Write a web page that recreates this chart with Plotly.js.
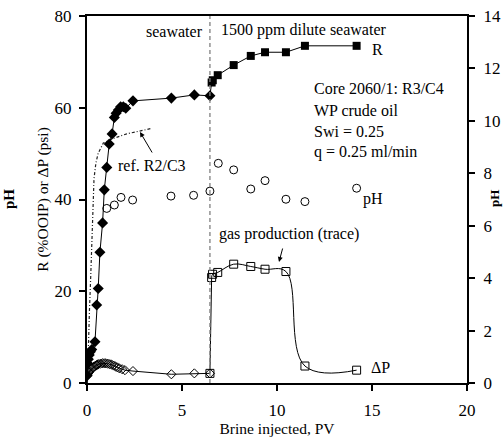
<!DOCTYPE html>
<html>
<head>
<meta charset="utf-8">
<script src="https://cdn.plot.ly/plotly-3.0.1.min.js"></script>
<style>html,body{margin:0;padding:0;background:#fff;}#chart{width:503px;height:445px;}</style>
</head>
<body>
<div id="chart"></div>
<script>
// Recovery R (%OOIP), seawater flood (filled diamonds)
const rSeaPV = [0.01, 0.03, 0.07, 0.12, 0.18, 0.25, 0.42, 0.51, 0.59, 0.68, 0.82, 0.91, 1.04, 1.17, 1.32, 1.44, 1.53, 1.65, 1.77, 1.91, 2.04, 2.42, 4.44, 5.65, 6.47];
const rSea   = [1.7, 4.3, 5.2, 6.1, 6.8, 7.3, 9.0, 17.0, 20.6, 28.5, 34.9, 42.1, 47.0, 52.1, 54.3, 57.9, 58.8, 59.5, 60.2, 60.2, 59.9, 61.5, 62.1, 62.8, 62.6];
// Recovery R, 1500 ppm dilute seawater (filled squares)
const rLowPV = [6.56, 6.62, 6.88, 7.72, 8.62, 9.37, 10.47, 11.47, 14.19];
const rLow   = [65.5, 66.0, 67.1, 69.3, 71.3, 72.1, 72.1, 73.5, 73.5];
// Reference recovery curve R2/C3 (dotted)
const refPV = [0.02, 0.05, 0.07, 0.13, 0.19, 0.26, 0.33, 0.37, 0.47, 0.59, 0.86, 1.38, 2.09, 2.79, 3.4];
const refR  = [0.0, 5.0, 9.4, 15.9, 22.5, 33.4, 43.6, 44.6, 48.0, 50.1, 52.3, 53.3, 54.3, 55.0, 55.5];
// Pressure drop dP (psi), seawater (open diamonds)
const dpSeaPV = [0.0, 0.05, 0.1, 0.15, 0.2, 0.25, 0.3, 0.35, 0.4, 0.45, 0.5, 0.55, 0.6, 0.7, 0.8, 0.9, 1.0, 1.1, 1.2, 1.3, 1.4, 1.5, 1.6, 1.7, 1.85, 2.0, 2.42, 4.44, 5.65, 6.47];
const dpSea   = [1.5, 2.0, 2.3, 2.6, 2.9, 3.1, 3.3, 3.5, 3.6, 3.8, 3.9, 4.0, 4.1, 4.2, 4.3, 4.3, 4.3, 4.2, 4.1, 4.0, 3.8, 3.6, 3.4, 3.2, 3.0, 2.8, 2.6, 1.9, 2.1, 2.1];
// Pressure drop, dilute seawater (open squares)
const dpLowPV = [6.47, 6.56, 6.61, 6.88, 7.72, 8.62, 9.37, 10.47, 11.47, 14.19];
const dpLow   = [2.1, 23.0, 23.7, 24.1, 25.9, 25.4, 24.8, 24.3, 3.7, 2.8];
// Effluent pH (open circles, right axis)
const phPV = [1.04, 1.44, 1.79, 2.4, 4.42, 5.61, 6.47, 6.91, 7.72, 8.62, 9.37, 10.47, 11.47, 14.19];
const ph   = [6.66, 6.79, 7.08, 6.98, 7.13, 7.16, 7.32, 8.38, 8.13, 7.40, 7.72, 7.01, 6.92, 7.43];
// Brine switch point (PV)
const switchPV = 6.47;

const FONT = 'Liberation Serif, Times New Roman, serif';
const blk = '#000';

const traces = [
  {x: refPV, y: refR, type: 'scatter', mode: 'lines', line: {color: '#222', width: 1.2, dash: '3px,2px,1px,2px'}, hoverinfo: 'skip'},
  // connectors
  {x: [rSeaPV[rSeaPV.length-1], rLowPV[0]], y: [rSea[rSea.length-1], rLow[0]], mode: 'lines', line: {color: blk, width: 1}},
  {x: dpLowPV.slice(0, 2), y: dpLow.slice(0, 2), mode: 'lines', line: {color: blk, width: 1}},
  {x: dpLowPV.slice(1), y: dpLow.slice(1), mode: 'lines', line: {color: blk, width: 1, shape: 'spline', smoothing: 1.1}},
  {x: dpSeaPV, y: dpSea, mode: 'lines+markers', line: {color: blk, width: 1},
   marker: {symbol: 'diamond-open', size: 7, color: blk, line: {width: 1, color: blk}}},
  {x: dpLowPV, y: dpLow, mode: 'markers',
   marker: {symbol: 'square-open', size: 8, color: blk, line: {width: 1, color: blk}}},
  {x: rSeaPV, y: rSea, mode: 'lines+markers', line: {color: blk, width: 1},
   marker: {symbol: 'diamond', size: 8.5, color: blk}},
  {x: rLowPV, y: rLow, mode: 'lines+markers', line: {color: blk, width: 1},
   marker: {symbol: 'square', size: 8, color: blk}},
  {x: phPV, y: ph, yaxis: 'y2', mode: 'markers',
   marker: {symbol: 'circle-open', size: 8, color: blk, line: {width: 1, color: blk}}}
];

const ann = (text, x, y, opts) => Object.assign({text, x, y, showarrow: false, borderpad: 0,
  font: {family: FONT, size: 16, color: blk}, xanchor: 'left', yanchor: 'middle'}, opts || {});

const layout = {
  width: 503, height: 445,
  margin: {l: 87, r: 36, t: 16, b: 62},
  paper_bgcolor: '#fff', plot_bgcolor: '#fff',
  showlegend: false,
  font: {family: FONT, size: 16, color: blk},
  xaxis: {
    range: [0, 20], dtick: 5, tick0: 0, showgrid: false, zeroline: false,
    showline: true, linewidth: 2, linecolor: blk, mirror: true,
    ticks: 'outside', ticklen: 6, tickwidth: 2, tickcolor: blk,
    ticklabelstandoff: 5,
    tickfont: {family: FONT, size: 17, color: blk},
    title: {text: 'Brine injected, PV', font: {family: FONT, size: 15.5, color: blk}, standoff: 4}
  },
  yaxis: {
    range: [0, 80], dtick: 20, tick0: 0, showgrid: false, zeroline: false,
    showline: true, linewidth: 2, linecolor: blk,
    ticks: 'outside', ticklen: 6, tickwidth: 2, tickcolor: blk,
    ticklabelstandoff: 4,
    tickfont: {family: FONT, size: 17, color: blk},
    title: {text: 'R (%OOIP) or ΔP (psi)', font: {family: FONT, size: 15.5, color: blk}, standoff: 2}
  },
  yaxis2: {
    overlaying: 'y', side: 'right', anchor: 'x',
    range: [0, 14], dtick: 2, tick0: 0, showgrid: false, zeroline: false,
    showline: true, linewidth: 2, linecolor: blk,
    ticks: 'outside', ticklen: 6, tickwidth: 2, tickcolor: blk,
    ticklabelstandoff: 5,
    tickfont: {family: FONT, size: 17, color: blk}
  },
  shapes: [
    {type: 'line', xref: 'x', yref: 'paper', x0: switchPV, x1: switchPV, y0: 0, y1: 1,
     line: {color: '#808080', width: 1.3, dash: '4px,3px'}}
  ],
  annotations: [
    ann('seawater', 174, 31, {xanchor: 'center'}),
    ann('1500 ppm dilute seawater', 220, 30),
    ann('R', 371, 49),
    ann('Core 2060/1: R3/C4', 313, 88),
    ann('WP crude oil', 313, 110),
    ann('Swi = 0.25', 313, 131),
    ann('q = 0.25 ml/min', 313, 152),
    ann('pH', 362, 199),
    ann('gas production (trace)', 218, 234),
    ann('ΔP', 370, 367),
    ann('ref. R2/C3', 117, 165),
    ann('<b>pH</b>', 9, 199, {textangle: -90, xanchor: 'center', font: {family: FONT, size: 15, color: blk}}),
    ann('<b>pH</b>', 495, 199, {textangle: -90, xanchor: 'center', font: {family: FONT, size: 13, color: blk}})
  ]
};

// convert pixel positions of annotations into paper coordinates
const pw = 503 - 87 - 36, phh = 445 - 16 - 62;
layout.annotations = layout.annotations.map(a => {
  const o = Object.assign({}, a);
  o.xref = 'paper'; o.yref = 'paper';
  o.x = (a.x - 87) / pw;
  o.y = 1 - (a.y - 16) / phh;
  return o;
});
// arrows
layout.annotations.push(
  {xref: 'paper', yref: 'paper', axref: 'pixel', ayref: 'pixel',
   x: (140 - 87) / pw, y: 1 - (132 - 16) / phh, ax: 13, ay: 22, text: '',
   showarrow: true, arrowhead: 2, arrowsize: 1, arrowwidth: 1, arrowcolor: blk},
  {xref: 'paper', yref: 'paper', axref: 'pixel', ayref: 'pixel',
   x: (279 - 87) / pw, y: 1 - (262 - 16) / phh, ax: 4, ay: -15, text: '',
   showarrow: true, arrowhead: 2, arrowsize: 1, arrowwidth: 1, arrowcolor: blk}
);

Plotly.newPlot('chart', traces, layout, {displayModeBar: false, staticPlot: true});
</script>
</body>
</html>
